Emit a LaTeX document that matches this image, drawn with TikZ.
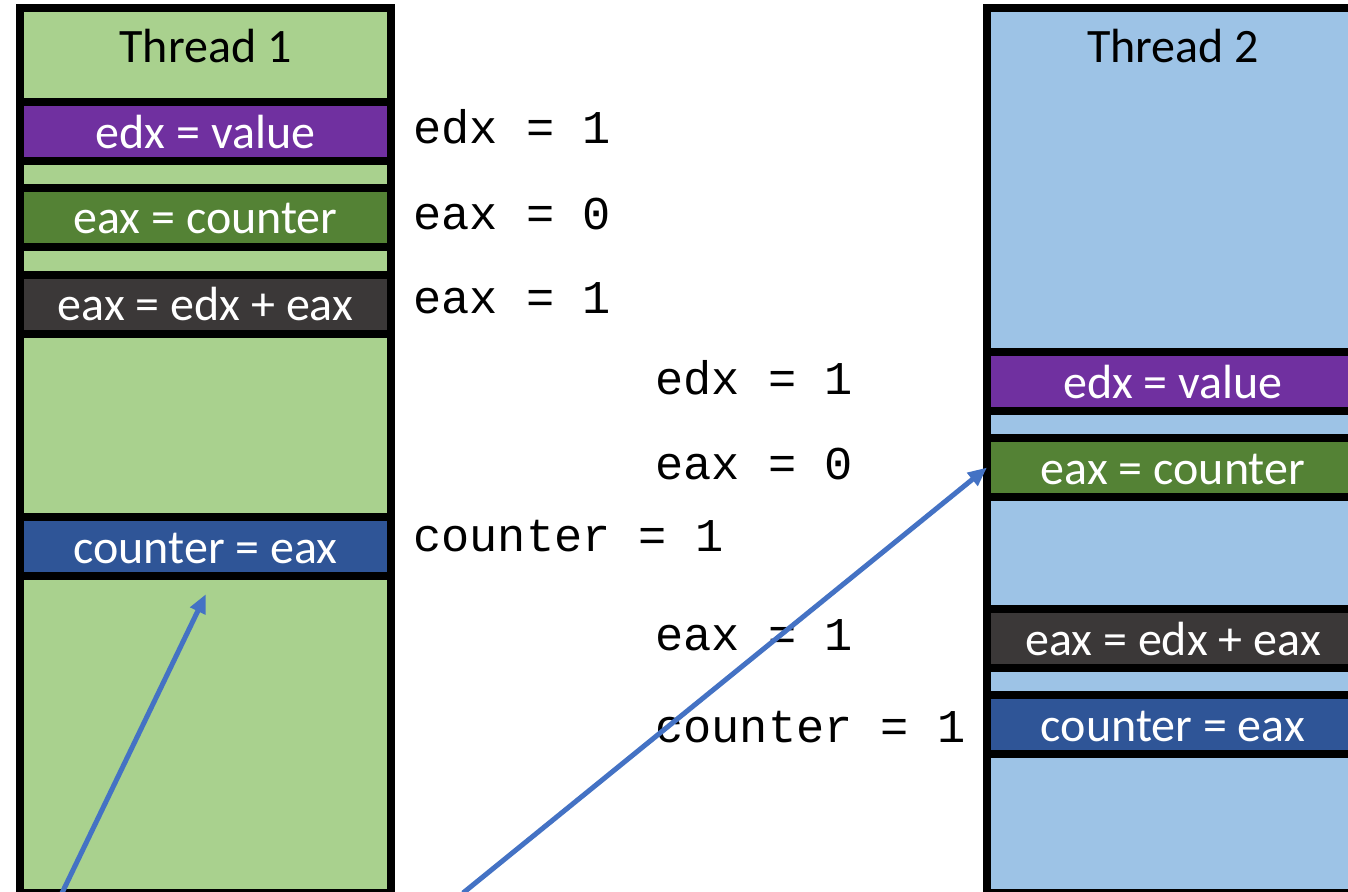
\documentclass[tikz,border=0pt]{standalone}
\usepackage{fontspec}
\setmainfont{Carlito}
\newfontfamily\codefont{Liberation Mono}
\usetikzlibrary{arrows.meta}
\definecolor{lgreen}{HTML}{A9D18E}
\definecolor{lblue}{HTML}{9DC3E6}
\definecolor{cpurple}{HTML}{7030A0}
\definecolor{dgreen}{HTML}{548235}
\definecolor{dgray}{HTML}{3B3838}
\definecolor{dblue}{HTML}{2F5597}
\definecolor{arrowblue}{HTML}{4472C4}
\begin{document}
\begin{tikzpicture}[x=1pt,y=-1pt,
  colbox/.style={draw=black, line width=8pt, rectangle, inner sep=0pt, outer sep=0pt, minimum height=884.5pt},
  blockbox/.style={draw=black, line width=8pt, rectangle, inner sep=0pt, outer sep=0pt,
    minimum height=59pt, text=white, font=\fontsize{48}{50}\selectfont, text height=33pt, text depth=0pt},
  title/.style={font=\fontsize{48}{50}\selectfont, anchor=base, inner sep=0pt},
  code/.style={font=\codefont\fontsize{47}{50}\selectfont, anchor=base west, inner sep=0pt},
  conn/.style={draw=arrowblue, line width=5pt, -{Triangle[length=19pt,width=16pt]}}
]
\useasboundingbox (0,0) rectangle (1348,891);
\clip (0,0) rectangle (1348,891);
\fill[white] (0,0) rectangle (1348,891);

% columns
\node[colbox, fill=lgreen, minimum width=371pt] (t1col) at (205.5,450.75) {};
\node[colbox, fill=lblue, minimum width=372pt] (t2col) at (1173,450.75) {};
\node[title] (t1lab) at (205.5,63) {Thread 1};
\node[title] (t2lab) at (1173,63) {Thread 2};

% thread 1 blocks
\node[blockbox, fill=cpurple, minimum width=371pt] (t1edx) at (205.5,131.5) {edx = value};
\node[blockbox, fill=dgreen, minimum width=371pt] (t1eax) at (205.5,217.25) {eax = counter};
\node[blockbox, fill=dgray, minimum width=371pt] (t1add) at (205.5,304.25) {eax = edx + eax};
\node[blockbox, fill=dblue, minimum width=371pt] (t1st) at (205.5,546.75) {counter = eax};

% thread 2 blocks
\node[blockbox, fill=cpurple, minimum width=372pt] (t2edx) at (1173,381.5) {edx = value};
\node[blockbox, fill=dgreen, minimum width=372pt] (t2eax) at (1173,467.5) {eax = counter};
\node[blockbox, fill=dgray, minimum width=372pt] (t2add) at (1173,638.5) {eax = edx + eax};
\node[blockbox, fill=dblue, minimum width=372pt] (t2st) at (1173,724.5) {counter = eax};

% interleaved values
\node[code] (c1) at (413,143) {edx = 1};
\node[code] (c2) at (413,229) {eax = 0};
\node[code] (c3) at (413,313) {eax = 1};
\node[code] (c4) at (655,394) {edx = 1};
\node[code] (c5) at (655,479) {eax = 0};
\node[code] (c6) at (413,551) {counter = 1};
\node[code] (c7) at (655,650) {eax = 1};
\node[code] (c8) at (655,742) {counter = 1};

% arrows
\coordinate (a1s) at (62,893);
\coordinate (a1e) at (206,594);
\coordinate (a2s) at (463,893);
\draw[conn] (a1s) -- (a1e);
\draw[conn] (a2s) -- (t2eax.west);
\end{tikzpicture}
\end{document}
